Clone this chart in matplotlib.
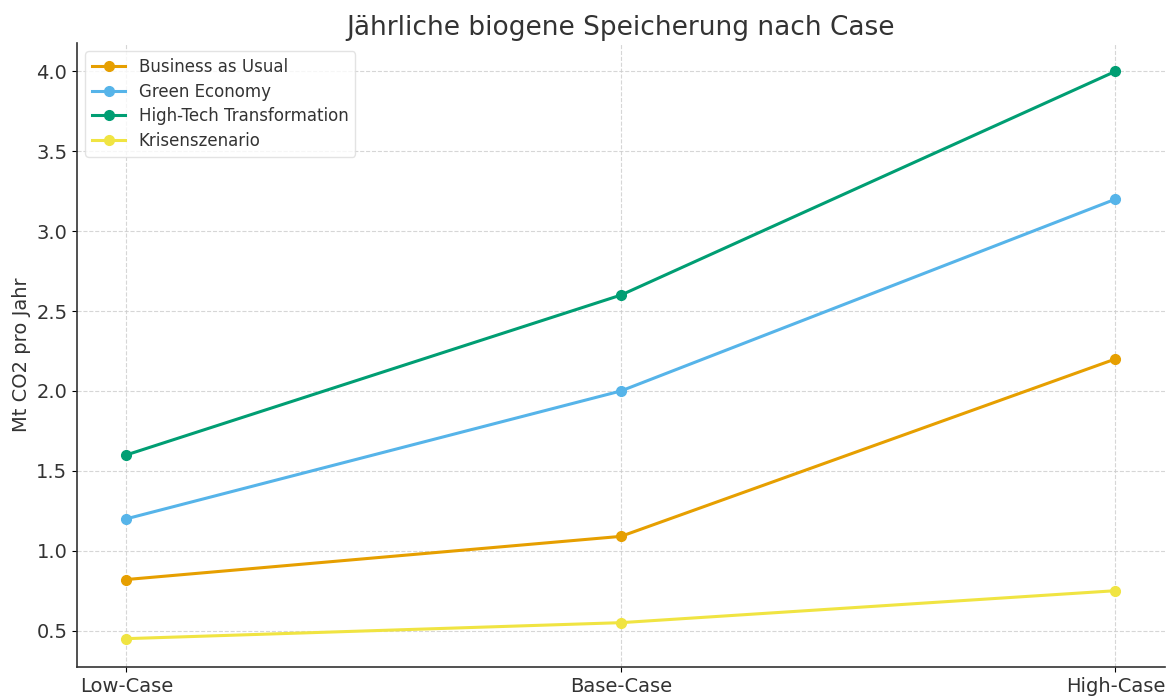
import matplotlib
matplotlib.use("Agg")
import matplotlib.pyplot as plt

cases = ["Low-Case", "Base-Case", "High-Case"]
business_as_usual = [0.82, 1.09, 2.20]
green_economy = [1.20, 2.00, 3.20]
high_tech = [1.60, 2.60, 4.00]
krisenszenario = [0.45, 0.55, 0.75]

series = [
    ("Business as Usual", business_as_usual, "#E69F00"),
    ("Green Economy", green_economy, "#56B4E9"),
    ("High-Tech Transformation", high_tech, "#009E73"),
    ("Krisenszenario", krisenszenario, "#F0E442"),
]

plt.rcParams["font.family"] = ["DejaVu Sans"]

fig = plt.figure(figsize=(11.76, 6.98), dpi=100)
ax = fig.add_axes([0.0655, 0.0444, 0.925, 0.894])

x = list(range(len(cases)))
for label, values, color in series:
    ax.plot(x, values, marker="o", color=color, linewidth=2.2, markersize=7, label=label)

ax.set_xticks(x)
ax.set_xticklabels(cases, fontsize=14, color="#333333")
ax.tick_params(axis="y", labelsize=14, labelcolor="#333333")
ax.set_ylabel("Mt CO2 pro Jahr", fontsize=14, color="#333333")
ax.set_title("Jährliche biogene Speicherung nach Case", fontsize=19, color="#333333")

ax.grid(True, linestyle="--", linewidth=0.8, color="#cccccc", alpha=0.8)
ax.spines["top"].set_visible(False)
ax.spines["right"].set_visible(False)
ax.spines["left"].set_color("#333333")
ax.spines["bottom"].set_color("#333333")
ax.spines["left"].set_linewidth(1.2)
ax.spines["bottom"].set_linewidth(1.2)

leg = ax.legend(loc="upper left", fontsize=12, frameon=True, labelspacing=0.4)
leg.get_frame().set_edgecolor("#dddddd")
for t in leg.get_texts():
    t.set_color("#333333")

fig.savefig("out.png", dpi=100)
